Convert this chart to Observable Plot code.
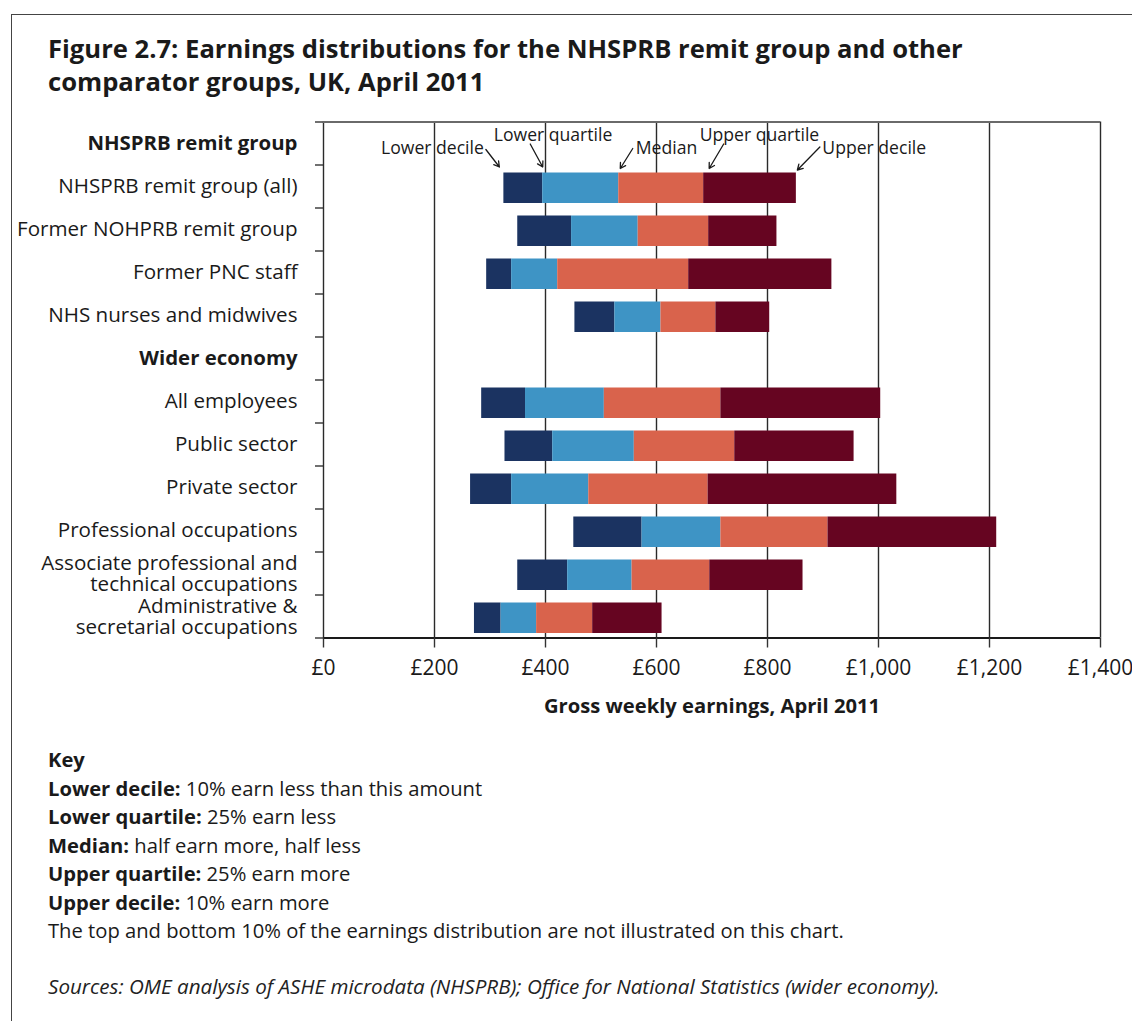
<!DOCTYPE html>
<html>
<head>
<meta charset="utf-8">
<script src="https://cdn.jsdelivr.net/npm/d3@7"></script>
<script src="https://cdn.jsdelivr.net/npm/@observablehq/plot@0.6"></script>
<style>
  html, body { margin: 0; padding: 0; background: #fff; }
  body { width: 1132px; height: 1021px; position: relative; overflow: hidden; font-family: "Open Sans", sans-serif; color: #222; }
  #frame { position: absolute; left: 11px; top: 14px; right: -5px; bottom: -5px; border-left: 1.5px solid #444; border-top: 1.5px solid #444; }
  #title { position: absolute; left: 48px; top: 32px; font-size: 25.6px; font-weight: bold; line-height: 33px; color: #1a1a1a; white-space: nowrap; }
  #chart { position: absolute; left: 0; top: 100px; }
  #key { position: absolute; left: 48px; top: 745px; font-size: 20.2px; line-height: 28.5px; color: #1a1a1a; white-space: nowrap; }
  #source { position: absolute; left: 48px; top: 972px; font-size: 20.6px; font-style: italic; color: #222; white-space: nowrap; }
</style>
</head>
<body>
<div id="frame"></div>
<div id="title">Figure 2.7: Earnings distributions for the NHSPRB remit group and other<br>comparator groups, UK, April 2011</div>
<div id="chart"></div>
<div id="key">
  <div><b>Key</b></div>
  <div><b>Lower decile:</b> 10% earn less than this amount</div>
  <div><b>Lower quartile:</b> 25% earn less</div>
  <div><b>Median:</b> half earn more, half less</div>
  <div><b>Upper quartile:</b> 25% earn more</div>
  <div><b>Upper decile:</b> 10% earn more</div>
  <div>The top and bottom 10% of the earnings distribution are not illustrated on this chart.</div>
</div>
<div id="source">Sources: OME analysis of ASHE microdata (NHSPRB); Office for National Statistics (wider economy).</div>
<script>
// ---- Data ----
const categories = [
  "NHSPRB remit group",
  "NHSPRB remit group (all)",
  "Former NOHPRB remit group",
  "Former PNC staff",
  "NHS nurses and midwives",
  "Wider economy",
  "All employees",
  "Public sector",
  "Private sector",
  "Professional occupations",
  "Associate professional and\ntechnical occupations",
  "Administrative &\nsecretarial occupations"
];
const headers = ["NHSPRB remit group", "Wider economy"];
const lowerDecile   = [null, 325, 350, 294, 453, null, 285, 327, 265, 451, 350, 272];
const lowerQuartile = [null, 395, 447, 339, 525, null, 364, 413, 339, 574, 440, 320];
const median        = [null, 532, 567, 422, 608, null, 506, 560, 478, 716, 556, 384];
const upperQuartile = [null, 685, 694, 658, 707, null, 716, 741, 693, 909, 696, 485];
const upperDecile   = [null, 852, 817, 916, 804, null, 1004, 956, 1033, 1213, 864, 610];
const statNames = ["Lower decile", "Lower quartile", "Median", "Upper quartile", "Upper decile"];
const segmentNames = ["Lower decile–lower quartile", "Lower quartile–median", "Median–upper quartile", "Upper quartile–upper decile"];
const xTicks = [0, 200, 400, 600, 800, 1000, 1200, 1400];
const xLabel = "Gross weekly earnings, April 2011";

// ---- Styles / layout ----
const segmentColors = ["#1b3361", "#3e94c5", "#d9634c", "#660521"];
const W = 1132, H = 630;
const M = {top: 21.5, right: 32, bottom: 92.5, left: 323};
const xMax = 1400, nRows = categories.length;
const pxPerUnit = (W - M.left - M.right) / xMax;
const pxPerRow = (H - M.top - M.bottom) / nRows;
// annotation offsets in pixels relative to (boundary of first data row, top of that row)
const annLayout = [
  {anchor: "end",   tdx: -20,  tdy: -17, tailDx: -18,  tailDy: -15.5, tipDx: -4.5, tipDy: 2},
  {anchor: "start", tdx: -49,  tdy: -30, tailDx: -12.5,tailDy: -21,   tipDx: 0,    tipDy: 2},
  {anchor: "start", tdx: 17,   tdy: -17, tailDx: 14,   tailDy: -16.5, tipDx: 1.5,  tipDy: 3.5},
  {anchor: "start", tdx: -4,   tdy: -30, tailDx: 20,   tailDy: -21,   tipDx: 5.5,  tipDy: 3.5},
  {anchor: "start", tdx: 26,   tdy: -17, tailDx: 23.5, tailDy: -18,   tipDx: 1,    tipDy: 5}
];

// ---- Build tables ----
const stats = [lowerDecile, lowerQuartile, median, upperQuartile, upperDecile];
const rows = categories.map((c, i) => ({category: c, index: i, header: headers.includes(c)}));
const segments = [];
rows.forEach(r => {
  if (lowerDecile[r.index] == null) return;
  for (let s = 0; s < 4; s++) {
    segments.push({category: r.category, index: r.index, segment: segmentNames[s],
      x1: stats[s][r.index], x2: stats[s + 1][r.index]});
  }
});
const annRow = rows.find(r => lowerDecile[r.index] != null).index;
const annotations = statNames.map((name, s) => ({label: name, value: stats[s][annRow], ...annLayout[s]}));

const chart = Plot.plot({
  width: W, height: H,
  marginTop: M.top, marginRight: M.right, marginBottom: M.bottom, marginLeft: M.left,
  style: {fontFamily: "'Open Sans', sans-serif", fontSize: "18px", color: "#1a1a1a", background: "transparent", overflow: "visible"},
  x: {domain: [0, xMax], axis: null},
  y: {domain: [0, nRows], reverse: true, axis: null},
  color: {domain: segmentNames, range: segmentColors},
  marks: [
    Plot.ruleX(xTicks, {stroke: "#2a2a2a", strokeWidth: 1.4}),
    Plot.ruleY([0], {stroke: "#6a6a6a", strokeWidth: 2}),
    Plot.axisY({ticks: d3.range(0, nRows + 1), tickSize: 8, tickFormat: () => "", label: null, stroke: "#333", strokeWidth: 1.4}),
    Plot.rect(segments, {x1: "x1", x2: "x2", y1: "index", y2: d => d.index + 1, fill: "segment", insetTop: 8, insetBottom: 4.5}),
    Plot.ruleY([nRows], {stroke: "#1a1a1a", strokeWidth: 2}),
    Plot.axisX({ticks: xTicks, tickSize: 10, tickPadding: 12, fontSize: 21, stroke: "#333", strokeWidth: 1.4,
      tickFormat: d => "£" + d3.format(",")(d), label: null}),
    Plot.text([xLabel], {frameAnchor: "bottom", dy: 75, fontWeight: "bold", fontSize: 20.2, text: d => d}),
    Plot.text(rows.filter(r => !r.header), {x: 0, y: d => d.index + 0.5, text: "category", textAnchor: "end", dx: -26, lineHeight: 1.03, fontSize: 20.6}),
    Plot.text(rows.filter(r => r.header), {x: 0, y: d => d.index + 0.5, text: "category", textAnchor: "end", dx: -26, fontWeight: "bold", fontSize: 20.4}),
    ...annotations.map(a => Plot.text([a], {x: "value", y: annRow, text: "label", textAnchor: a.anchor, dx: a.tdx, dy: a.tdy, fontSize: 17.6})),
    Plot.arrow(annotations, {
      x1: d => d.value + d.tailDx / pxPerUnit, y1: d => annRow + d.tailDy / pxPerRow,
      x2: d => d.value + d.tipDx / pxPerUnit, y2: d => annRow + d.tipDy / pxPerRow,
      stroke: "#1a1a1a", strokeWidth: 1.3, headLength: 7
    })
  ]
});
document.getElementById("chart").appendChild(chart);
</script>
</body>
</html>
